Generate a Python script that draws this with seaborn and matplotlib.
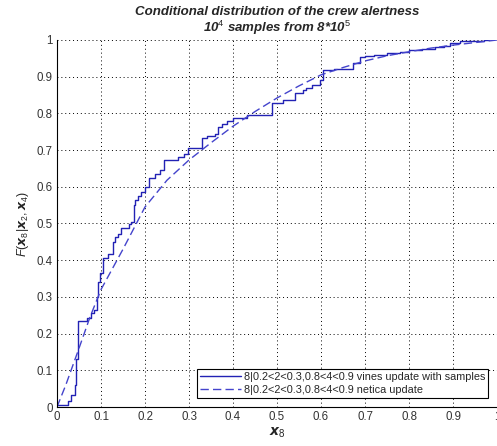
import numpy as np
import pandas as pd
import seaborn as sns
import matplotlib.pyplot as plt

# empirical CDF from the vines samples (step points, steps-post)
vines_x = [0, 0.026, 0.031, 0.040, 0.043, 0.047, 0.068, 0.078, 0.085, 0.090, 0.094, 0.098,
           0.104, 0.116, 0.127, 0.132, 0.138, 0.146, 0.163, 0.168, 0.175, 0.178, 0.185,
           0.192, 0.200, 0.210, 0.222, 0.235, 0.243, 0.275, 0.288, 0.298, 0.329, 0.342,
           0.358, 0.366, 0.374, 0.386, 0.400, 0.431, 0.488, 0.514, 0.541, 0.560, 0.567,
           0.579, 0.598, 0.605, 0.630, 0.673, 0.689, 0.700, 0.720, 0.750, 0.780, 0.800,
           0.830, 0.860, 0.880, 0.893, 0.916, 0.970, 0.980]
vines_y = [0.005, 0.015, 0.033, 0.06, 0.13, 0.235, 0.242, 0.255, 0.265, 0.30, 0.34, 0.365,
           0.405, 0.418, 0.45, 0.462, 0.472, 0.487, 0.498, 0.505, 0.55, 0.565, 0.575,
           0.585, 0.60, 0.625, 0.635, 0.645, 0.672, 0.68, 0.69, 0.705, 0.732, 0.738,
           0.745, 0.762, 0.77, 0.778, 0.787, 0.796, 0.827, 0.836, 0.855, 0.864, 0.868,
           0.877, 0.891, 0.918, 0.922, 0.936, 0.955, 0.957, 0.960, 0.964, 0.968, 0.972,
           0.976, 0.980, 0.984, 0.993, 0.997, 1.0, 1.0]

# netica CDF (smooth)
netica_x = [0, 0.02, 0.05, 0.075, 0.1, 0.125, 0.15, 0.2, 0.25, 0.3, 0.35, 0.4, 0.45, 0.5,
            0.55, 0.6, 0.65, 0.7, 0.75, 0.8, 0.85, 0.9, 0.95, 1.0]
netica_y = [0, 0.06, 0.16, 0.245, 0.32, 0.375, 0.43, 0.545, 0.618, 0.673, 0.72, 0.765,
            0.805, 0.842, 0.875, 0.905, 0.925, 0.943, 0.957, 0.968, 0.978, 0.986, 0.993, 1.0]

tick_labels = ['0', '0.1', '0.2', '0.3', '0.4', '0.5', '0.6', '0.7', '0.8', '0.9', '1']

label_vines = '8|0.2<2<0.3,0.8<4<0.9 vines update with samples'
label_netica = '8|0.2<2<0.3,0.8<4<0.9 netica update'

sns.set_theme(style='white')
plt.rcParams['font.family'] = ['Liberation Sans', 'DejaVu Sans']
plt.rcParams['mathtext.fontset'] = 'custom'
plt.rcParams['mathtext.rm'] = 'Liberation Sans'
plt.rcParams['mathtext.it'] = 'Liberation Sans:italic'
plt.rcParams['mathtext.bf'] = 'Liberation Sans:bold'

fig = plt.figure(figsize=(4.97, 4.46), dpi=100)
ax = fig.add_axes([57 / 497, 39 / 446, 440 / 497, 367 / 446])

vines = pd.DataFrame({'x': vines_x, 'y': vines_y})
netica = pd.DataFrame({'x': netica_x, 'y': netica_y})

sns.lineplot(data=vines, x='x', y='y', ax=ax, color='#2222b4', lw=1.0,
             drawstyle='steps-post', label=label_vines, estimator=None, sort=False)
sns.lineplot(data=netica, x='x', y='y', ax=ax, color='#4444cc', lw=1.0,
             label=label_netica, estimator=None)
ax.lines[1].set_linestyle((0, (6, 3)))

ax.set_xlim(0, 1)
ax.set_ylim(0, 1)
ax.set_xticks(np.arange(0, 1.01, 0.1))
ax.set_yticks(np.arange(0, 1.01, 0.1))
ax.set_xticklabels(tick_labels)
ax.set_yticklabels(tick_labels)
ax.tick_params(direction='in', length=4, width=0.8, labelsize=8.3, labelcolor='#333333',
               color='black', top=False, right=False, pad=3)
ax.grid(True, color='black', linestyle=(0, (1, 3)), linewidth=0.7)
ax.spines['top'].set_visible(False)
ax.spines['right'].set_visible(False)
for s in ['left', 'bottom']:
    ax.spines[s].set_color('black')
    ax.spines[s].set_linewidth(0.8)

ax.set_xlabel(r'$\boldsymbol{x}_8$', fontsize=10, labelpad=2)
ax.set_ylabel(r'$F(\boldsymbol{x}_8|\boldsymbol{x}_2,\boldsymbol{x}_4)$', fontsize=9, labelpad=4)
ax.set_title('Conditional distribution of the crew alertness\n'
             r'10$^4$ samples from 8*10$^5$',
             fontsize=9.5, fontweight='bold', fontstyle='italic', pad=6, linespacing=1.0)

leg = ax.legend(loc='lower right', bbox_to_anchor=(0.98, 0.024), fontsize=7.8,
                frameon=True, fancybox=False, edgecolor='black', framealpha=1,
                handlelength=3.8, handletextpad=0.2, borderpad=0.3, labelspacing=0.25,
                borderaxespad=0)
leg.get_frame().set_linewidth(0.8)

fig.savefig('out.png', dpi=100)
